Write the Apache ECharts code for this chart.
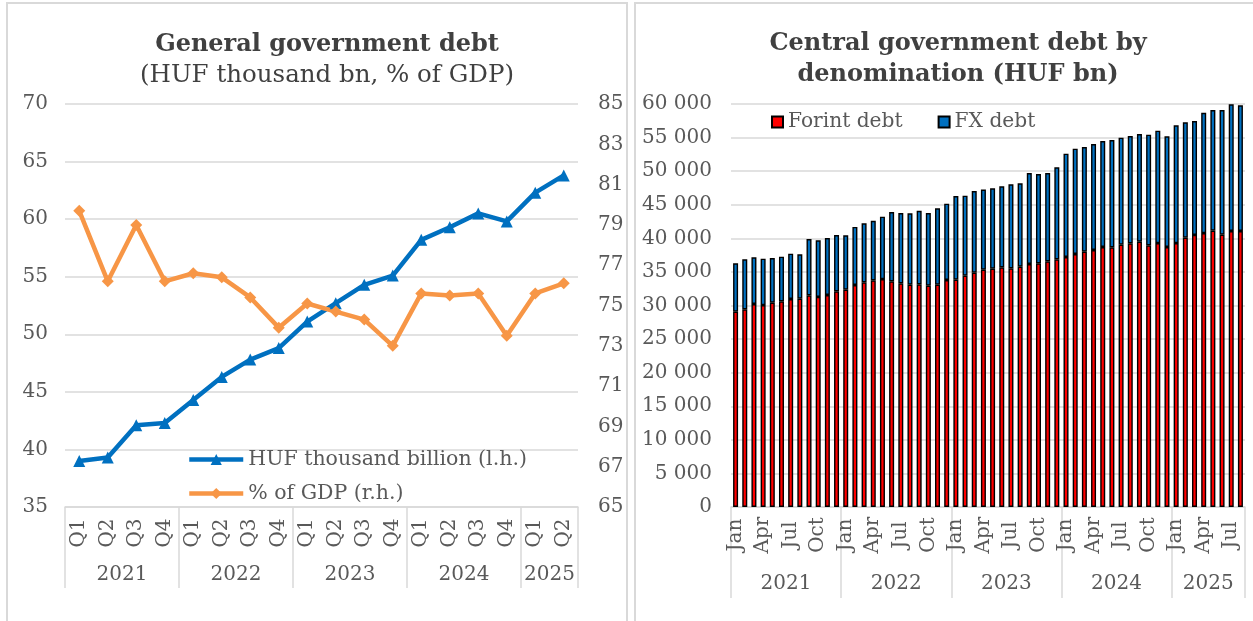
<!DOCTYPE html>
<html>
<head>
<meta charset="utf-8">
<script src="https://cdn.jsdelivr.net/npm/echarts@6/dist/echarts.min.js"></script>
<style>
  html, body { margin: 0; padding: 0; background: #ffffff; }
  #chart { width: 1253px; height: 621px; }
</style>
</head>
<body>
<div id="chart"></div>
<script>
// ---- General government debt (quarterly) ----
const quarterYears = ['2021', '2022', '2023', '2024', '2025'];
const quartersPerYear = [4, 4, 4, 4, 2];
const quarterNames = ['Q1', 'Q2', 'Q3', 'Q4'];
const debtHufThousandBn = [39.0, 39.3, 42.1, 42.3, 44.3, 46.3, 47.8, 48.8, 51.1, 52.7,
                           54.3, 55.1, 58.2, 59.3, 60.5, 59.8, 62.3, 63.8];
const debtPctGdp = [79.7, 76.2, 79.0, 76.2, 76.6, 76.4, 75.4, 73.9, 75.1, 74.7,
                    74.3, 73.0, 75.6, 75.5, 75.6, 73.5, 75.6, 76.1];

// ---- Central government debt by denomination (monthly, HUF bn) ----
const monthYears = ['2021', '2022', '2023', '2024', '2025'];
const monthsPerYear = [12, 12, 12, 12, 8];
const monthNames = ['Jan', 'Feb', 'Mar', 'Apr', 'May', 'Jun', 'Jul', 'Aug', 'Sep', 'Oct', 'Nov', 'Dec'];
const forintDebt = [29080, 29430, 30220, 30070, 30420, 30620, 30970, 31020, 31510, 31270, 31560, 32110,
                    32360, 33050, 33450, 33750, 33940, 33600, 33300, 33100, 33150, 32950, 33100, 33800,
                    33840, 34440, 34890, 35330, 35480, 35690, 35540, 35780, 36180, 36280, 36580, 36870,
                    37220, 37670, 38010, 38260, 38710, 38660, 39050, 39260, 39500, 38960, 39300, 38710,
                    39300, 40100, 40500, 40790, 41140, 40540, 41090, 41090];
const fxDebt = [7200, 7440, 6950, 6900, 6650, 6650, 6750, 6600, 8390, 8430, 8490, 8380,
                8090, 8650, 8780, 8870, 9280, 10320, 10470, 10620, 10960, 10820, 11370, 11360,
                12460, 11910, 12160, 11940, 11960, 12050, 12500, 12410, 13540, 13300, 13140, 13700,
                15380, 15680, 15590, 15780, 15780, 15980, 15930, 15970, 16030, 16470, 16730, 16470,
                17520, 17170, 16970, 17910, 17960, 18560, 18860, 18710];

// Category labels for each bar / point
const quarterLabels = [];
quartersPerYear.forEach(n => { for (let i = 0; i < n; i++) quarterLabels.push(quarterNames[i]); });
const monthLabels = [];
monthsPerYear.forEach(n => { for (let i = 0; i < n; i++) monthLabels.push(monthNames[i]); });

// Year band axis: one point per category boundary; year name at the band centre,
// separator ticks at the band edges.
function yearBand(years, counts) {
  const total = counts.reduce((a, b) => a + b, 0);
  const data = new Array(total + 1).fill('');
  const edges = new Set([0]);
  let pos = 0;
  years.forEach((y, i) => {
    data[pos + counts[i] / 2] = y;
    pos += counts[i];
    edges.add(pos);
  });
  return { data, edges };
}
const qBand = yearBand(quarterYears, quartersPerYear);
const mBand = yearBand(monthYears, monthsPerYear);

const FONT = 'DejaVu Serif';
const LABEL = '#595959';
const GRID = '#D9D9D9';
const axisText = { color: LABEL, fontFamily: FONT, fontSize: 20 };

function spaced(v) {
  return String(v).replace(/\B(?=(\d{3})+(?!\d))/g, ' ');
}

const chart = echarts.init(document.getElementById('chart'), null, { renderer: 'canvas' });

chart.setOption({
  animation: false,
  backgroundColor: '#ffffff',
  graphic: [
    { type: 'rect', shape: { x: 7, y: 3, width: 620, height: 640 },
      style: { fill: 'none', stroke: GRID, lineWidth: 2 }, silent: true, z: -10 },
    { type: 'rect', shape: { x: 635, y: 3, width: 640, height: 640 },
      style: { fill: 'none', stroke: GRID, lineWidth: 2 }, silent: true, z: -10 }
  ],
  title: [
    {
      text: 'General government debt',
      subtext: '(HUF thousand bn, % of GDP)',
      left: 322, top: 28, textAlign: 'center', itemGap: 6,
      textStyle: { fontFamily: FONT, fontSize: 24, fontWeight: 'bold', color: '#404040' },
      subtextStyle: { fontFamily: FONT, fontSize: 24.5, color: '#404040' }
    },
    {
      text: 'Central government debt by\ndenomination (HUF bn)',
      left: 953, top: 23, textAlign: 'center',
      textStyle: { fontFamily: FONT, fontSize: 24, fontWeight: 'bold', color: '#404040', lineHeight: 31 }
    }
  ],
  legend: [
    {
      data: ['HUF thousand billion (l.h.)', '% of GDP (r.h.)'],
      orient: 'vertical', left: 182, top: 444,
      itemWidth: 54, itemHeight: 14, itemGap: 13,
      lineStyle: { width: 4.5 },
      textStyle: { fontFamily: FONT, fontSize: 20.5, color: LABEL }
    },
    {
      data: ['Forint debt', 'FX debt'],
      orient: 'horizontal', left: 766, top: 107,
      icon: 'rect', itemWidth: 11, itemHeight: 11, itemGap: 35,
      textStyle: { fontFamily: FONT, fontSize: 20.2, color: LABEL }
    }
  ],
  grid: [
    { left: 65, right: 675, top: 104, bottom: 114 },
    { left: 731, right: 8, top: 104, bottom: 114 }
  ],
  xAxis: [
    { // quarters
      type: 'category', gridIndex: 0, data: quarterLabels, boundaryGap: true,
      axisLine: { lineStyle: { color: GRID, width: 1.5 } },
      axisTick: { show: false },
      axisLabel: Object.assign({}, axisText, { rotate: 90, interval: 0, margin: 26, align: 'center', verticalAlign: 'middle' })
    },
    { // year bands under the quarters
      type: 'category', gridIndex: 0, position: 'bottom', data: qBand.data, boundaryGap: false,
      axisLine: { show: false },
      axisTick: { show: true, length: 81, interval: (i) => qBand.edges.has(i), lineStyle: { color: GRID, width: 1.5 } },
      axisLabel: Object.assign({}, axisText, { interval: 0, margin: 58 })
    },
    { // months
      type: 'category', gridIndex: 1, data: monthLabels, boundaryGap: true,
      axisLine: { lineStyle: { color: GRID, width: 1.5 } },
      axisTick: { show: false },
      axisLabel: Object.assign({}, axisText, { rotate: 90, interval: 2, margin: 28, align: 'center', verticalAlign: 'middle' })
    },
    { // year bands under the months
      type: 'category', gridIndex: 1, position: 'bottom', data: mBand.data, boundaryGap: false,
      axisLine: { show: false },
      axisTick: { show: true, length: 91, interval: (i) => mBand.edges.has(i), lineStyle: { color: GRID, width: 1.5 } },
      axisLabel: Object.assign({}, axisText, { interval: 0, margin: 67 })
    }
  ],
  yAxis: [
    {
      type: 'value', gridIndex: 0, min: 35, max: 70, interval: 5,
      axisLine: { show: false }, axisTick: { show: false },
      splitLine: { lineStyle: { color: GRID, width: 1.5 } },
      axisLabel: Object.assign({}, axisText, { margin: 17 })
    },
    {
      type: 'value', gridIndex: 0, position: 'right', min: 65, max: 85, interval: 2,
      axisLine: { show: false }, axisTick: { show: false },
      splitLine: { show: false },
      axisLabel: Object.assign({}, axisText, { margin: 20 })
    },
    {
      type: 'value', gridIndex: 1, min: 0, max: 60000, interval: 5000,
      axisLine: { show: false }, axisTick: { show: false },
      splitLine: { lineStyle: { color: GRID, width: 1.5 } },
      axisLabel: Object.assign({}, axisText, { margin: 19, formatter: spaced })
    }
  ],
  series: [
    {
      name: 'HUF thousand billion (l.h.)', type: 'line', xAxisIndex: 0, yAxisIndex: 0,
      data: debtHufThousandBn,
      symbol: 'triangle', symbolSize: 12,
      lineStyle: { color: '#0070C0', width: 4.5 },
      itemStyle: { color: '#0070C0' }
    },
    {
      name: '% of GDP (r.h.)', type: 'line', xAxisIndex: 0, yAxisIndex: 1,
      data: debtPctGdp,
      symbol: 'diamond', symbolSize: 12,
      lineStyle: { color: '#F79646', width: 4.5 },
      itemStyle: { color: '#F79646' }
    },
    {
      name: 'Forint debt', type: 'bar', xAxisIndex: 2, yAxisIndex: 2, stack: 'debt',
      data: forintDebt, barWidth: 5,
      itemStyle: { color: '#FF0000', borderColor: '#000000', borderWidth: 1.4 }
    },
    {
      name: 'FX debt', type: 'bar', xAxisIndex: 2, yAxisIndex: 2, stack: 'debt',
      data: fxDebt, barWidth: 5,
      itemStyle: { color: '#0070C0', borderColor: '#000000', borderWidth: 1.4 }
    }
  ]
});
</script>
</body>
</html>
